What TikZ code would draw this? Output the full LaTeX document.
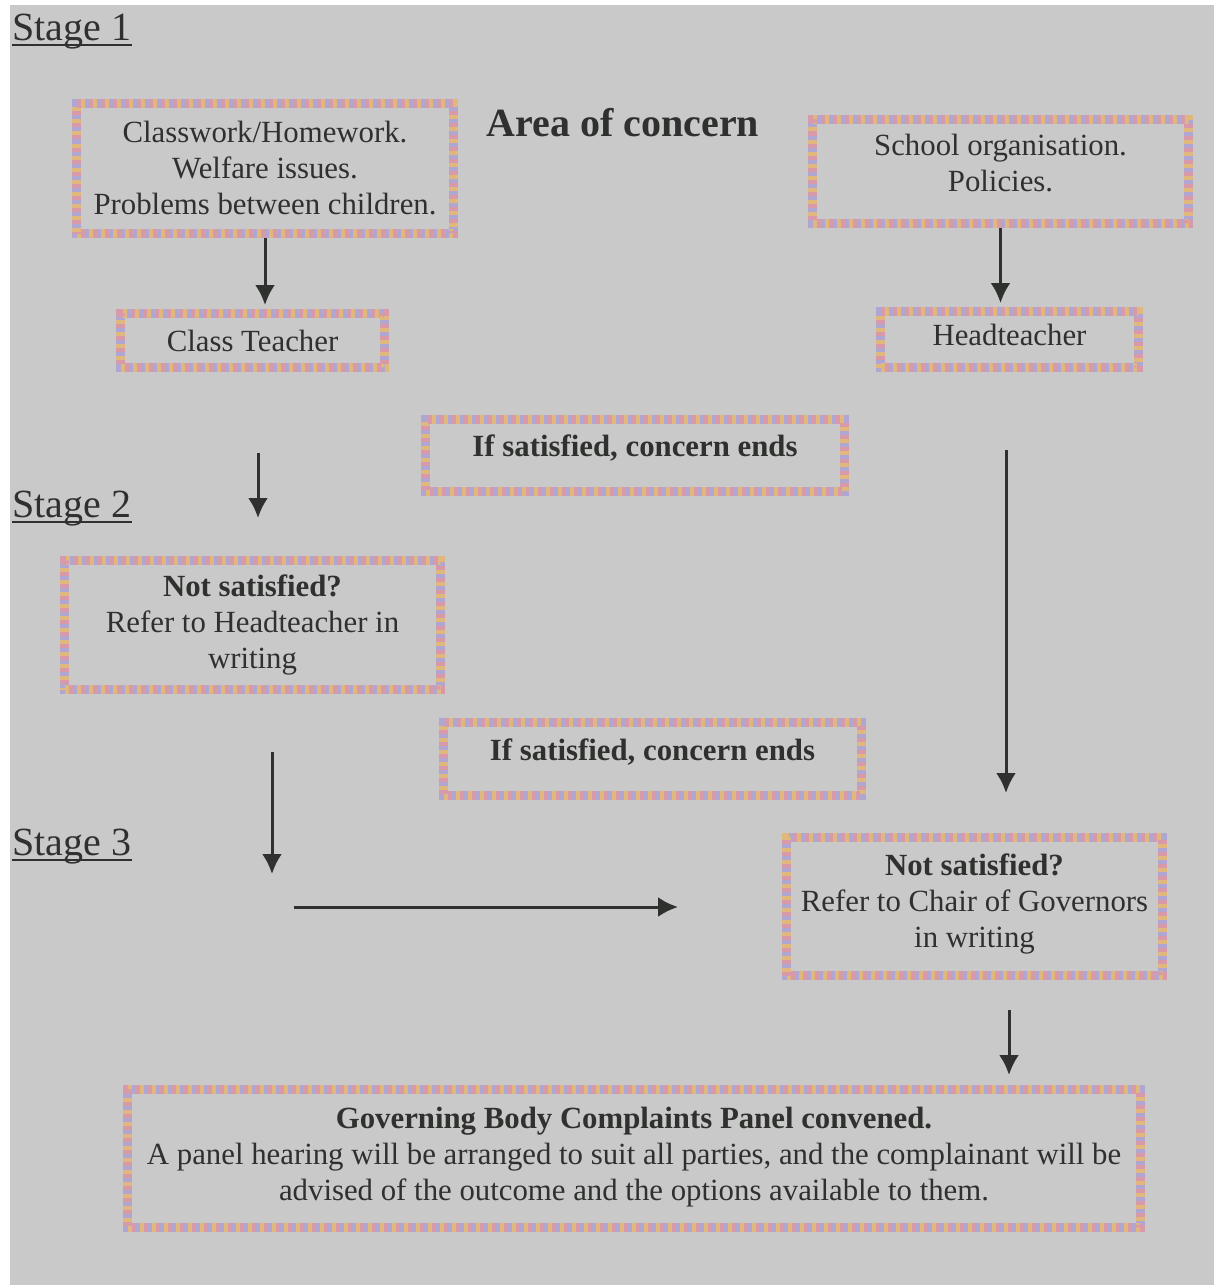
\documentclass[tikz,border=0pt]{standalone}
\usepackage{fontspec}
\setmainfont{Liberation Serif}
\usetikzlibrary{arrows.meta}

\definecolor{pagegray}{HTML}{C9C9C9}
\definecolor{inkgray}{HTML}{2E312E}
\definecolor{lav}{HTML}{B0A6D2}
\definecolor{ochre}{HTML}{E0B87E}
\definecolor{rosy}{HTML}{D89AA8}

\tikzset{
  patbox/.style={draw=lav, line width=4.5pt, align=center, text=inkgray, inner sep=0pt,
    font=\fontsize{15.4}{18}\selectfont,
    postaction={draw=ochre, line width=4.5pt, dash pattern=on 2pt off 4pt},
    postaction={draw=rosy, line width=4.5pt, dash pattern=on 2pt off 4pt, dash phase=4pt}},
  stagelbl/.style={text=inkgray, inner sep=0pt, anchor=base west,
    font=\fontsize{20}{24}\selectfont},
  arr/.style={draw=inkgray, line width=1.5pt, -{Latex[length=10pt,width=10pt]}, shorten >=2pt}
}

\begin{document}
\begin{tikzpicture}[x=0.5pt, y=-0.5pt]
        \useasboundingbox (0,0) rectangle (1214,1285);
        \fill[white] (0,0) rectangle (1214,1285);
        \fill[pagegray] (10,5) rectangle (1214,1285);

        % stage labels
        \node[stagelbl] (st1) at (12,40) {Stage 1};
        \node[stagelbl] (st2) at (12,517) {Stage 2};
        \node[stagelbl] (st3) at (12,855) {Stage 3};
        \foreach \s in {st1,st2,st3}
          \draw[inkgray, line width=0.8pt] ([yshift=-2.5pt]\s.base west) -- ([yshift=-2.5pt]\s.base east);

        \node[text=inkgray, font=\fontsize{20}{24}\selectfont\bfseries] (area) at (623,123) {Area of concern};

        % boxes
        \node[patbox, minimum width=188.5pt, minimum height=65pt] (cwork) at (265,168.5)
          {Classwork/Homework.\\Welfare issues.\\Problems between children.};
        \node[patbox, minimum width=188pt, minimum height=52pt, text depth=9pt] (school) at (1000.5,171.5)
          {School organisation.\\Policies.};
        \node[patbox, minimum width=132pt, minimum height=27pt] (cteach) at (252.5,340.5) {Class Teacher};
        \node[patbox, minimum width=129pt, minimum height=28pt, text depth=5pt] (head) at (1009.5,339.5) {Headteacher};
        \node[patbox, minimum width=209.5pt, minimum height=36pt, text depth=9.5pt] (sat1) at (635,455.5)
          {\textbf{If satisfied, concern ends}};
        \node[patbox, minimum width=188pt, minimum height=64.5pt] (notsat1) at (252.5,625)
          {\textbf{Not satisfied?}\\Refer to Headteacher in\\writing};
        \node[patbox, minimum width=209pt, minimum height=36.5pt, text depth=9.5pt] (sat2) at (652.5,759)
          {\textbf{If satisfied, concern ends}};
        \node[patbox, minimum width=188pt, minimum height=69pt, text depth=6pt] (notsat2) at (974.5,906.5)
          {\textbf{Not satisfied?}\\Refer to Chair of Governors\\in writing};
        \node[patbox, minimum width=506.5pt, minimum height=69pt, text depth=5pt] (panel) at (634,1158.5)
          {\textbf{Governing Body Complaints Panel convened.}\\
           A panel hearing will be arranged to suit all parties, and the complainant will be\\
           advised of the outcome and the options available to them.};

        % free arrow ends
        \coordinate (l1a) at (258,453);
        \coordinate (l1b) at (258,522);
        \coordinate (r1a) at (1006,450);
        \coordinate (r1b) at (1006,797);
        \coordinate (l2a) at (272,752);
        \coordinate (l2b) at (272,878);
        \coordinate (h1a) at (294,907);
        \coordinate (h1b) at (682,907);
        \coordinate (r2a) at (1009,1010);
        \coordinate (r2b) at (1009,1079);

        \draw[arr] (cwork.south) -- (cwork.south |- cteach.north);
        \draw[arr] (school.south) -- (school.south |- head.north);
        \draw[arr] (l1a) -- (l1b);
        \draw[arr] (r1a) -- (r1b);
        \draw[arr] (l2a) -- (l2b);
        \draw[arr] (h1a) -- (h1b);
        \draw[arr] (r2a) -- (r2b);
\end{tikzpicture}
\end{document}
